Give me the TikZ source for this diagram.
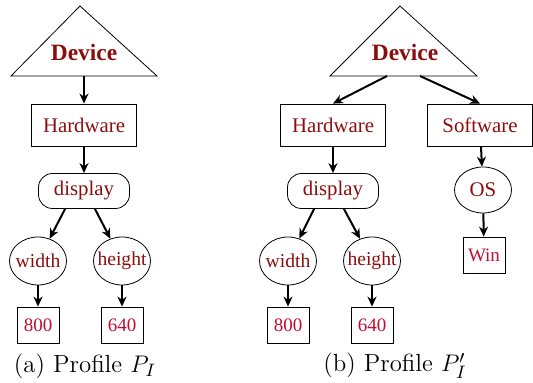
\documentclass[tikz,border=0pt]{standalone}
\usepackage{fontspec}
\newfontfamily\labelfont{Liberation Serif}
\usetikzlibrary{arrows.meta,shapes.geometric}

\definecolor{labelred}{rgb}{0.55,0.05,0.05}
\definecolor{valred}{rgb}{0.75,0.05,0.2}

\tikzset{
  attr/.style={draw, thin, text=labelred, font=\labelfont\fontsize{10.4}{12}\selectfont},
  catbox/.style={attr, rectangle, minimum width=52.5pt, minimum height=21pt, inner sep=1pt},
  grpbox/.style={attr, rectangle, rounded corners=7pt, minimum width=45.5pt, minimum height=17.5pt, inner sep=1pt},
  keyell/.style={attr, ellipse, font=\labelfont\fontsize{9.8}{11}\selectfont, minimum width=28.5pt, minimum height=24pt, inner xsep=-6pt, inner ysep=0pt},
  valbox/.style={draw, thin, text=valred, font=\labelfont\fontsize{9.5}{11}\selectfont, minimum width=21pt, minimum height=18pt, inner sep=1pt},
  rootlbl/.style={text=labelred, font=\labelfont\fontsize{11.7}{13}\selectfont\bfseries},
  link/.style={-{Stealth[length=5pt,width=4.5pt]}, line width=1pt},
  capt/.style={font=\fontsize{12.4}{14}\selectfont}
}

\begin{document}
\begin{tikzpicture}[x=0.5pt, y=-0.5pt]
  \useasboundingbox (0,0) rectangle (533,383);

  % (a) profile
  \draw[thin] (80,6) -- (157,76) -- (11,76) -- cycle;
  \node[rootlbl] (devA) at (84,53) {Device};
  \coordinate (devAbase) at (84,76);

  \node[catbox] (hwA) at (84,125) {Hardware};
  \node[grpbox] (dispA) at (84,191) {display};
  \node[keyell] (widA) at (38,261) {width};
  \node[keyell] (heiA) at (122,261) {height};
  \node[valbox] (wvA) at (38,325) {800};
  \node[valbox] (hvA) at (122,325) {640};

  \draw[link] (devAbase) -- (hwA);
  \draw[link] (hwA) -- (dispA);
  \draw[link] (dispA.south west) ++(27,0) -- (widA);
  \draw[link] (dispA.south east) ++(-35,0) -- (heiA);
  \draw[link] (widA) -- (wvA);
  \draw[link] (heiA) -- (hvA);

  \node[capt] (captA) at (85,366) {(a) Profile $P_I$};

  % (b) profile
  \draw[thin] (400,6) -- (477,76) -- (330,76) -- cycle;
  \node[rootlbl] (devB) at (405,53) {Device};
  \coordinate (devBl) at (387,76);
  \coordinate (devBr) at (420,76);

  \node[catbox] (hwB) at (333,125) {Hardware};
  \node[catbox] (swB) at (480,125) {Software};
  \node[grpbox] (dispB) at (333,191) {display};
  \node[keyell] (widB) at (288,261) {width};
  \node[keyell] (heiB) at (372,261) {height};
  \node[valbox] (wvB) at (288,325) {800};
  \node[valbox] (hvB) at (372,325) {640};
  \node[keyell, font=\labelfont\fontsize{10.4}{12}\selectfont, minimum height=23pt] (osB) at (483,190) {OS};
  \node[valbox] (winB) at (484,255) {Win};

  \draw[link] (devBl) -- (hwB.north);
  \draw[link] (devBr) -- (swB.north);
  \draw[link] (hwB) -- (dispB);
  \draw[link] (dispB.south west) ++(27,0) -- (widB);
  \draw[link] (dispB.south east) ++(-35,0) -- (heiB);
  \draw[link] (widB) -- (wvB);
  \draw[link] (heiB) -- (hvB);
  \draw[link] (swB) -- (osB);
  \draw[link] (osB) -- (winB);

  \node[capt] (captB) at (395,366) {(b) Profile $P'_I$};
\end{tikzpicture}
\end{document}
